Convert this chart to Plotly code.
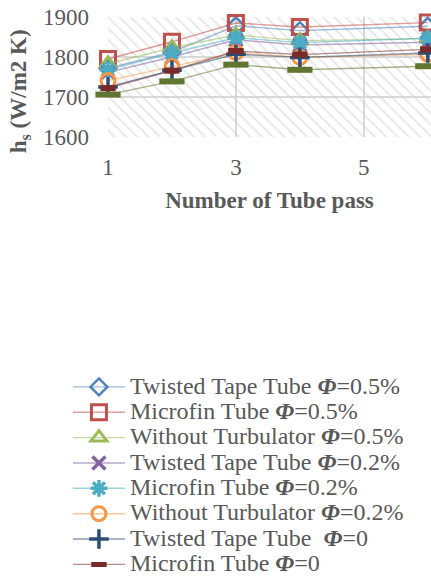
import plotly.graph_objects as go

# Number of tube passes
passes = [1, 2, 3, 4, 6]

# Shell-side heat transfer coefficient h_s (W/m2 K)
tt_05 = [1772, 1812, 1878, 1866, 1877]
mf_05 = [1795, 1838, 1885, 1875, 1886]
wt_05 = [1783, 1823, 1855, 1841, 1846]
tt_02 = [1762, 1800, 1843, 1830, 1837]
mf_02 = [1768, 1810, 1848, 1836, 1847]
wt_02 = [1741, 1776, 1811, 1799, 1807]
tt_0 = [1725, 1767, 1807, 1799, 1810]
mf_0 = [1722, 1766, 1815, 1806, 1819]
wt_0 = [1706, 1739, 1781, 1768, 1777]

PHI = "<b><i>Φ</i></b>"
LEG = '<span style="font-size:24px">{}</span>'
series = [
    ("Twisted Tape Tube " + PHI + "=0.5%", tt_05, "#4F81BD", "diamond-open", 13, 2.5, True),
    ("Microfin Tube " + PHI + "=0.5%", mf_05, "#C0504D", "square-open", 15, 3, True),
    ("Without Turbulator " + PHI + "=0.5%", wt_05, "#9BBB59", "triangle-up-open", 14, 3, True),
    ("Twisted Tape Tube " + PHI + "=0.2%", tt_02, "#8064A2", "x-thin-open", 13, 3.5, True),
    ("Microfin Tube " + PHI + "=0.2%", mf_02, "#4BACC6", "asterisk-open", 14, 3.5, True),
    ("Without Turbulator " + PHI + "=0.2%", wt_02, "#F79646", "circle-open", 14, 3, True),
    ("Twisted Tape Tube &nbsp;" + PHI + "=0", tt_0, "#2C4D75", "cross-thin-open", 14, 3.5, True),
    ("Microfin Tube " + PHI + "=0", mf_0, "#772C2A", "line-ew-open", 11, 6, True),
    ("Without Turbulator " + PHI + "=0", wt_0, "#5F7530", "line-ew-open", 18, 6, False),
]


def rgba(hex_color, a):
    h = hex_color.lstrip("#")
    r, g, b = int(h[0:2], 16), int(h[2:4], 16), int(h[4:6], 16)
    return f"rgba({r},{g},{b},{a})"


fig = go.Figure()

# hatched plot-area background on a hidden unit axis pair
fig.add_trace(go.Bar(
    x=[0.5], y=[1], width=1, xaxis="x", yaxis="y",
    marker=dict(color="rgba(0,0,0,0)", line=dict(width=0),
                pattern=dict(shape="\\", fgcolor="#d2d2d2", bgcolor="rgba(0,0,0,0)",
                             size=8, solidity=0.24, fillmode="overlay")),
    showlegend=False, hoverinfo="skip",
))

for name, vals, color, sym, size, lw, show in series:
    fig.add_trace(go.Scatter(
        x=passes, y=vals, name=LEG.format(name), mode="lines+markers",
        xaxis="x2", yaxis="y2", cliponaxis=False, showlegend=show,
        line=dict(color=rgba(color, 0.55), width=1.4),
        marker=dict(symbol=sym, size=size, color=color,
                    line=dict(color=color, width=lw)),
    ))

grey = "#595959"
serif = "Liberation Serif"

fig.update_layout(
    width=431, height=576,
    margin=dict(l=108, r=0, t=17, b=439, autoexpand=False),
    paper_bgcolor="white", plot_bgcolor="white",
    font=dict(family=serif, color=grey),
    xaxis=dict(range=[0, 1], visible=False, fixedrange=True),
    yaxis=dict(range=[0, 1], visible=False, fixedrange=True),
    xaxis2=dict(
        overlaying="x", anchor="y2", range=[1, 6.05], tickvals=[1, 3, 5],
        showgrid=True, gridcolor="#d9d9d9", gridwidth=1.5, zeroline=False,
        showline=False, ticks="", ticklabelstandoff=14,
        tickfont=dict(size=23, color=grey, family=serif),
        title=dict(text="<b>Number of Tube pass</b>", standoff=12,
                   font=dict(size=23, color=grey, family=serif)),
    ),
    yaxis2=dict(
        overlaying="y", anchor="x2", side="left", range=[1600, 1900],
        tickvals=[1600, 1700, 1800, 1900],
        showgrid=True, gridcolor="#d9d9d9", gridwidth=1.5, zeroline=False,
        showline=False, ticks="", ticklabelstandoff=18,
        tickfont=dict(size=23, color=grey, family=serif),
    ),
    annotations=[dict(
        text="<b>h<sub>s</sub> (W/m2 K)</b>", textangle=-90,
        xref="paper", yref="paper", x=-0.27, y=0.38,
        xanchor="center", yanchor="middle", showarrow=False,
        font=dict(size=23, color=grey, family=serif),
    )],
    legend=dict(
        x=-0.124, xanchor="left", y=-1.935, yanchor="top",
        font=dict(size=17.2, color=grey, family=serif),
        bgcolor="rgba(0,0,0,0)", tracegroupgap=0, itemwidth=52,
    ),
)

fig.write_html("out.html")
